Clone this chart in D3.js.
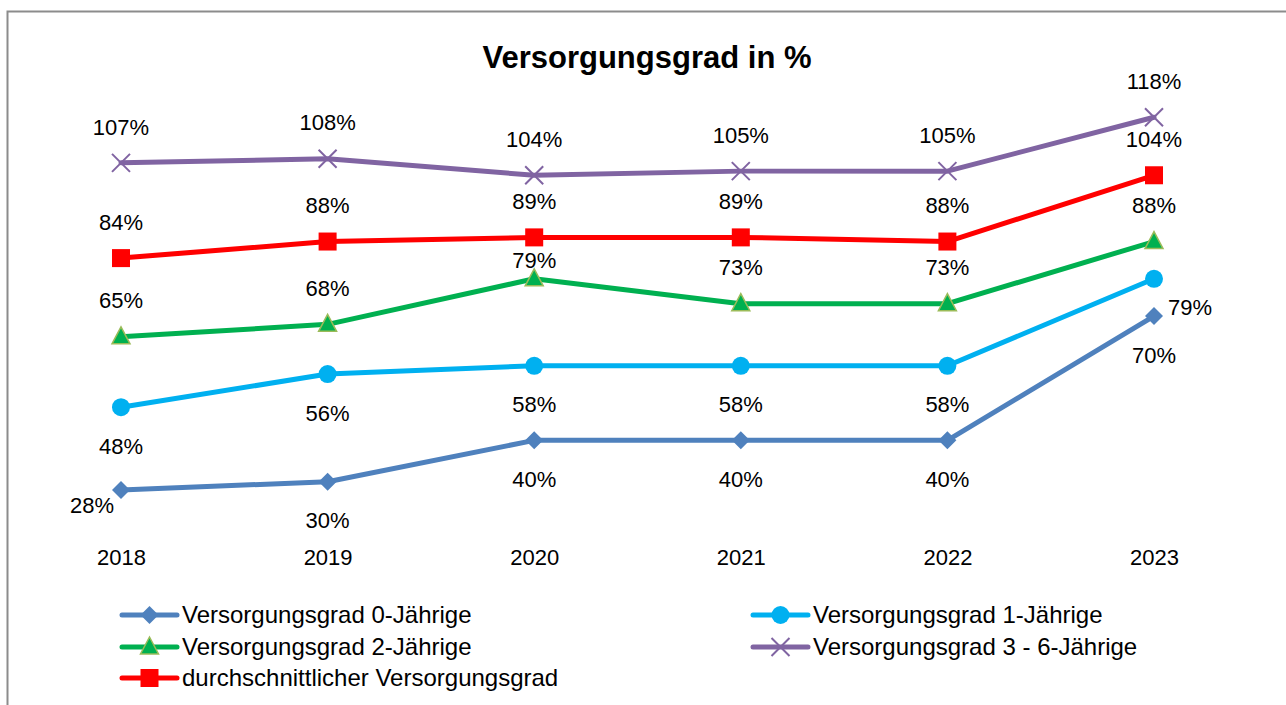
<!DOCTYPE html>
<html>
<head>
<meta charset="utf-8">
<script src="https://cdn.jsdelivr.net/npm/d3@7"></script>
<style>
  body { margin: 0; background: #fff; }
  text { font-family: "Liberation Sans", Arial, sans-serif; fill: #000; }
</style>
</head>
<body>
<div id="chart"></div>
<script>
// data
var years = ["2018", "2019", "2020", "2021", "2022", "2023"];
var grad0 = [28, 30, 40, 40, 40, 70];
var grad1 = [48, 56, 58, 58, 58, 79];
var grad2 = [65, 68, 79, 73, 73, 88];
var grad36 = [107, 108, 104, 105, 105, 118];
var gradAvg = [84, 88, 89, 89, 88, 104];

var svgWidth = 1286;
var svgHeight = 705;

var series = [
    { name: "Versorgungsgrad 0-Jährige", values: grad0, color: "#4F81BD", marker: "diamond", pos: "below" },
    { name: "Versorgungsgrad 1-Jährige", values: grad1, color: "#00B0F0", marker: "circle", pos: "below" },
    { name: "Versorgungsgrad 2-Jährige", values: grad2, color: "#00B050", marker: "triangle", pos: "above" },
    { name: "Versorgungsgrad 3 - 6-Jährige", values: grad36, color: "#8064A2", marker: "cross", pos: "above" },
    { name: "durchschnittlicher Versorgungsgrad", values: gradAvg, color: "#FF0000", marker: "square", pos: "above" }
];

// a few labels were moved by hand in the original
var labelNudge = {
    "0-0": [-29, 15],
    "1-5": [36, 28],
    "2-2": [0, -19]
};

var svg = d3.select("#chart")
    .append("svg")
    .attr("width", svgWidth)
    .attr("height", svgHeight);

// chart frame
svg.append("rect")
    .attr("x", 7.5)
    .attr("y", 11.5)
    .attr("width", 1300)
    .attr("height", 720)
    .attr("fill", "none")
    .attr("stroke", "#8c8c8c")
    .attr("stroke-width", 2);

svg.append("text")
    .attr("x", 647)
    .attr("y", 57)
    .attr("dy", "0.35em")
    .attr("text-anchor", "middle")
    .style("font-size", "31px")
    .style("font-weight", "bold")
    .text("Versorgungsgrad in %");

var xscale = d3.scalePoint()
    .domain(years)
    .range([121, 1154]);

var yscale = d3.scaleLinear()
    .domain([0, 120])
    .range([606, 109]);

// year labels (axis without line)
var xAxis = svg.append("g")
    .attr("transform", "translate(0, 540)")
    .call(d3.axisBottom(xscale).tickSize(0).tickPadding(0));
xAxis.select(".domain").remove();
xAxis.selectAll("text")
    .attr("dy", "0.35em")
    .attr("y", 17)
    .style("font-family", "Liberation Sans, Arial, sans-serif")
    .style("font-size", "22px")
    .attr("fill", "#000");

function drawMarker(g, type, color) {
    if (type === "diamond") {
        g.append("path").attr("d", "M0,-9L9,0L0,9L-9,0Z").attr("fill", color);
    } else if (type === "circle") {
        g.append("circle").attr("r", 9).attr("fill", color);
    } else if (type === "triangle") {
        g.append("path").attr("d", "M0,-10L9,7L-9,7Z")
            .attr("fill", color).attr("stroke", "#9BBB59").attr("stroke-width", 1.5);
    } else if (type === "square") {
        g.append("rect").attr("x", -9).attr("y", -9).attr("width", 18).attr("height", 18).attr("fill", color);
    } else if (type === "cross") {
        g.append("path").attr("d", "M-9,-9L9,9M-9,9L9,-9")
            .attr("stroke", color).attr("stroke-width", 2).attr("fill", "none");
    }
}

var line = d3.line()
    .x((d, i) => xscale(years[i]))
    .y(d => yscale(d));

series.forEach(function (s, si) {
    svg.append("path")
        .datum(s.values)
        .attr("d", line)
        .attr("fill", "none")
        .attr("stroke", s.color)
        .attr("stroke-width", 5)
        .attr("stroke-linejoin", "round")
        .attr("stroke-linecap", "round");

    s.values.forEach(function (v, i) {
        var g = svg.append("g")
            .attr("transform", `translate(${xscale(years[i])}, ${yscale(v)})`);
        drawMarker(g, s.marker, s.color);
    });

    svg.selectAll(null)
        .data(s.values)
        .enter()
        .append("text")
        .attr("x", (d, i) => xscale(years[i]) + ((labelNudge[si + "-" + i] || [0, 0])[0]))
        .attr("y", function (d, i) {
            var nudge = labelNudge[si + "-" + i];
            if (nudge) return yscale(d) + nudge[1];
            return yscale(d) + (s.pos === "above" ? -36 : 39);
        })
        .attr("dy", "0.35em")
        .attr("text-anchor", "middle")
        .style("font-size", "22px")
        .text(d => d + "%");
});

// legend
var legendPos = [
    [120, 615], [751, 615],
    [120, 647], [751, 647],
    [120, 678]
];
series.forEach(function (s, si) {
    var lg = svg.append("g")
        .attr("transform", `translate(${legendPos[si][0]}, ${legendPos[si][1]})`);
    lg.append("line")
        .attr("x1", 2).attr("x2", 57)
        .attr("stroke", s.color)
        .attr("stroke-width", 5)
        .attr("stroke-linecap", "round");
    var m = lg.append("g").attr("transform", "translate(29.5, 0)");
    drawMarker(m, s.marker, s.color);
    lg.append("text")
        .attr("x", 62)
        .attr("dy", "0.35em")
        .style("font-size", "24px")
        .text(s.name);
});
</script>
</body>
</html>
